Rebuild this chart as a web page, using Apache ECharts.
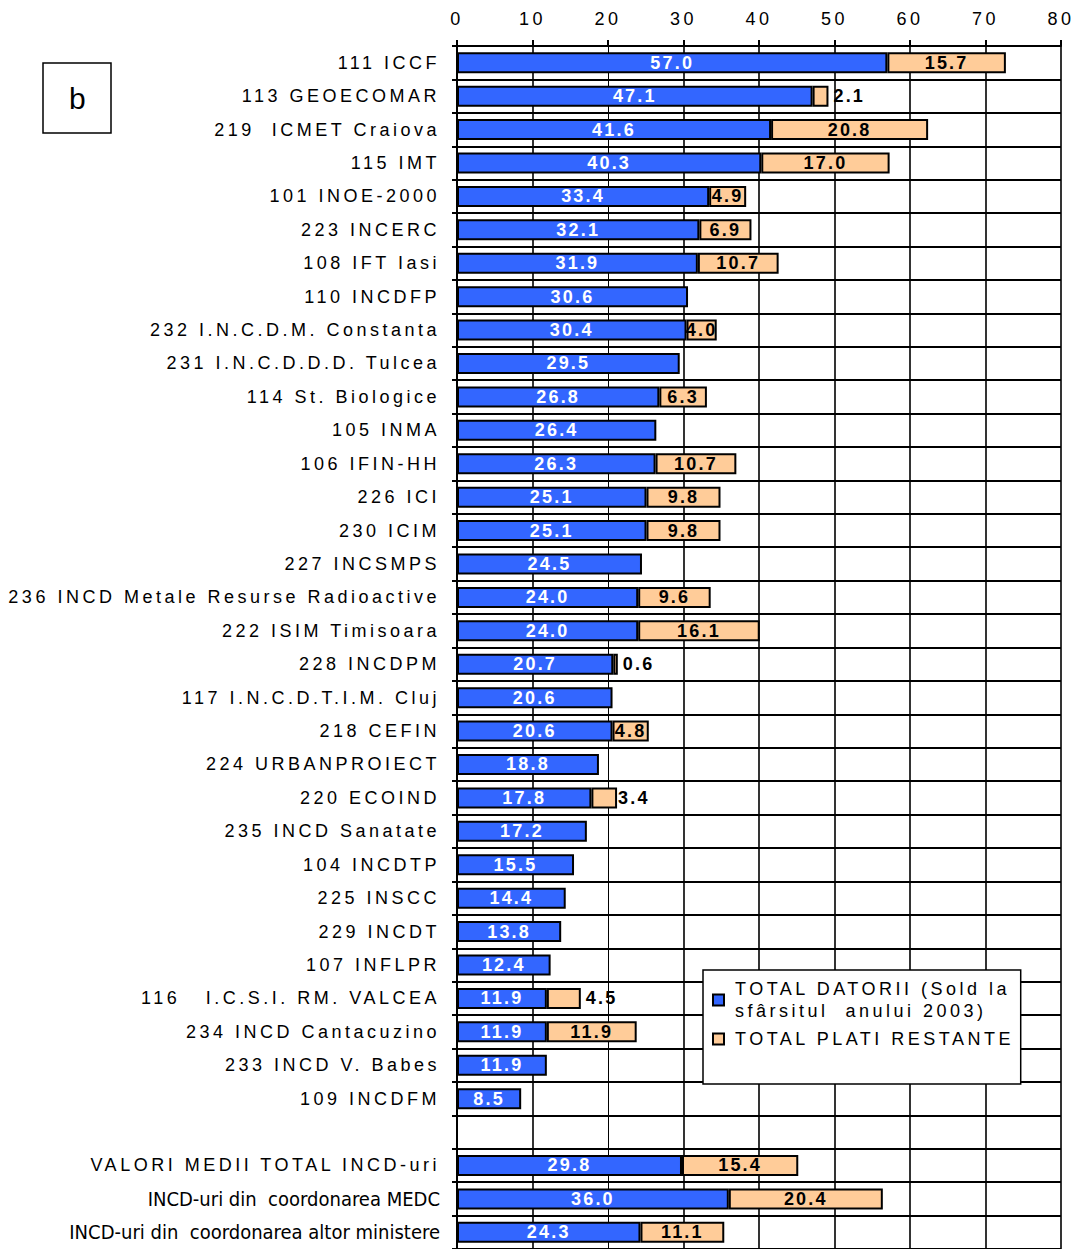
<!DOCTYPE html>
<html>
<head>
<meta charset="utf-8">
<script src="https://cdn.jsdelivr.net/npm/echarts@6/dist/echarts.min.js"></script>
<style>
  html, body { margin: 0; padding: 0; background: #fff; }
  #main { width: 1079px; height: 1249px; }
  /* textul din original e mai rarefiat */
  #main svg text { letter-spacing: 3.5px; }
  #main svg text[style*="bold"] { letter-spacing: 2.2px; }
  #main svg text[style*="Narrow"] { letter-spacing: 0; }
</style>
</head>
<body>
<div id="main"></div>
<script>
// categorii (rand gol inainte de medii)
var categorii = [
    '111 ICCF', '113 GEOECOMAR', '219  ICMET Craiova', '115 IMT', '101 INOE-2000',
    '223 INCERC', '108 IFT Iasi', '110 INCDFP', '232 I.N.C.D.M. Constanta',
    '231 I.N.C.D.D.D. Tulcea', '114 St. Biologice', '105 INMA', '106 IFIN-HH',
    '226 ICI', '230 ICIM', '227 INCSMPS', '236 INCD Metale Resurse Radioactive',
    '222 ISIM Timisoara', '228 INCDPM', '117 I.N.C.D.T.I.M. Cluj', '218 CEFIN',
    '224 URBANPROIECT', '220 ECOIND', '235 INCD Sanatate', '104 INCDTP',
    '225 INSCC', '229 INCDT', '107 INFLPR', '116   I.C.S.I. RM. VALCEA',
    '234 INCD Cantacuzino', '233 INCD V. Babes', '109 INCDFM', '',
    'VALORI MEDII TOTAL INCD-uri', 'INCD-uri din  coordonarea MEDC',
    'INCD-uri din  coordonarea altor ministere'
];
var totalDatorii = [
    57.0, 47.1, 41.6, 40.3, 33.4, 32.1, 31.9, 30.6, 30.4, 29.5, 26.8, 26.4, 26.3,
    25.1, 25.1, 24.5, 24.0, 24.0, 20.7, 20.6, 20.6, 18.8, 17.8, 17.2, 15.5, 14.4,
    13.8, 12.4, 11.9, 11.9, 11.9, 8.5, null, 29.8, 36.0, 24.3
];
var platiRestante = [
    15.7, 2.1, 20.8, 17.0, 4.9, 6.9, 10.7, null, 4.0, null, 6.3, null, 10.7,
    9.8, 9.8, null, 9.6, 16.1, 0.6, null, 4.8, null, 3.4, null, null, null,
    null, null, 4.5, 11.9, null, null, null, 15.4, 20.4, 11.1
];
// randurile unde eticheta portocalie sta in afara barei
var eticheteDreapta = ['113 GEOECOMAR', '228 INCDPM', '220 ECOIND', '116   I.C.S.I. RM. VALCEA'];
var numeSerii = ['TOTAL DATORII (Sold la sfârsitul  anului 2003)', 'TOTAL PLATI RESTANTE'];
var narrow = ['INCD-uri din  coordonarea MEDC', 'INCD-uri din  coordonarea altor ministere'];

var myChart = echarts.init(document.getElementById('main'), null, { renderer: 'svg' });

var dateRestante = platiRestante.map(function (v, i) {
    if (eticheteDreapta.indexOf(categorii[i]) >= 0) {
        return { value: v, label: { position: 'right', distance: categorii[i] === '220 ECOIND' ? 1 : 5 } };
    }
    return v;
});

var fmt = function (p) { return p.value == null ? '' : Number(p.value).toFixed(1); };
var font = '"Liberation Sans", Arial, sans-serif';

var option = {
    animation: false,
    grid: { left: 457, right: 18, top: 46, bottom: -5, containLabel: false },
    graphic: [{
        type: 'rect',
        shape: { x: 43, y: 63, width: 68, height: 70 },
        style: { fill: '#fff', stroke: '#000', lineWidth: 1.5 }
    }, {
        type: 'text',
        x: 79, y: 98,
        style: {
            text: 'b', font: '30px "Liberation Sans", Arial, sans-serif',
            fill: '#000', align: 'center', verticalAlign: 'middle'
        }
    }],
    legend: {
        data: numeSerii,
        orient: 'vertical',
        left: 703, top: 970,
        backgroundColor: '#fff',
        borderColor: '#000',
        borderWidth: 1.5,
        padding: [8, 76, 34, 9],
        itemGap: 6,
        itemWidth: 11, itemHeight: 11,
        icon: 'rect',
        textStyle: { fontSize: 18, color: '#000', fontFamily: font, lineHeight: 22, padding: [0, 0, 0, 6] },
        formatter: function (name) {
            return name === numeSerii[0] ? 'TOTAL DATORII (Sold la\nsfârsitul  anului 2003)' : name;
        }
    },
    xAxis: [{
        type: 'value',
        position: 'top',
        min: 0, max: 80, interval: 10,
        axisLine: { show: true, lineStyle: { color: '#000', width: 2 } },
        axisTick: { show: true, length: 6, lineStyle: { color: '#000', width: 2 } },
        axisLabel: { margin: 18, fontSize: 18, color: '#000', fontFamily: font },
        splitLine: {
            show: true,
            lineStyle: {
                color: ['#000', '#000', 'transparent', '#000', '#000', '#000', '#000', '#000', '#000'],
                width: 1.6
            }
        }
    }, {
        // doar linia subtire de la 20
        type: 'value',
        position: 'top',
        min: 0, max: 80, interval: 20,
        axisLine: { show: false },
        axisTick: { show: false },
        axisLabel: { show: false },
        splitLine: {
            show: true,
            lineStyle: { color: ['transparent', '#000', 'transparent', 'transparent', 'transparent'], width: 1 }
        }
    }],
    yAxis: {
        type: 'category',
        inverse: true,
        data: categorii,
        axisLine: { show: true, lineStyle: { color: '#000', width: 2 } },
        axisTick: { show: true, length: 5, lineStyle: { color: '#000', width: 2 } },
        axisLabel: {
            margin: 17, fontSize: 18, color: '#000', fontFamily: font,
            formatter: function (v) {
                return narrow.indexOf(v) >= 0 ? '{n|' + v + '}' : v;
            },
            rich: {
                n: {
                    fontSize: 20, color: '#000',
                    fontFamily: '"Liberation Sans Narrow", "DejaVu Sans Condensed", "Liberation Sans", sans-serif'
                }
            }
        },
        splitLine: { show: true, lineStyle: { color: '#000', width: 2 } }
    },
    series: [{
        name: numeSerii[0],
        type: 'bar',
        stack: 'total',
        barWidth: 21,
        data: totalDatorii,
        itemStyle: { color: '#3366FF', borderColor: '#000', borderWidth: 2 },
        label: {
            show: true, position: 'inside', color: '#fff', fontWeight: 'bold', fontSize: 18,
            fontFamily: font, formatter: fmt
        }
    }, {
        name: numeSerii[1],
        type: 'bar',
        stack: 'total',
        barWidth: 21,
        data: dateRestante,
        itemStyle: { color: '#FFCC99', borderColor: '#000', borderWidth: 2 },
        label: {
            show: true, position: 'inside', color: '#000', fontWeight: 'bold', fontSize: 18,
            fontFamily: font, formatter: fmt
        }
    }]
};
myChart.setOption(option);
</script>
</body>
</html>
